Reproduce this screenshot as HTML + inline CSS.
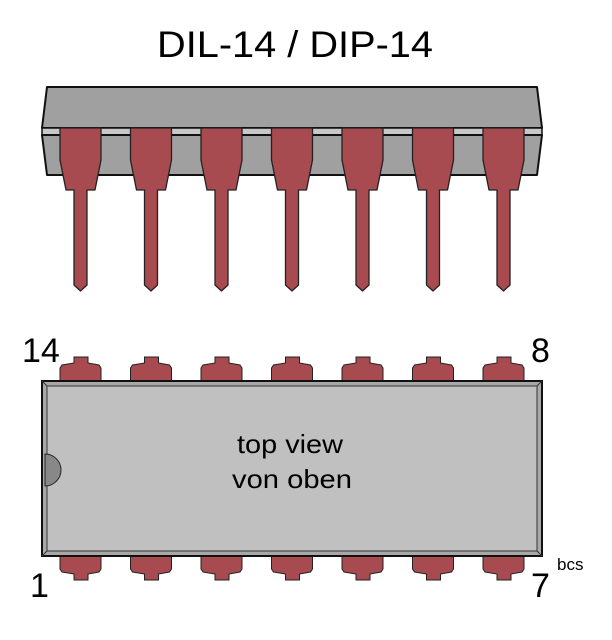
<!DOCTYPE html>
<html><head><meta charset="utf-8"><style>html,body{margin:0;padding:0;background:#fff}svg{display:block}</style></head>
<body>
<svg width="612" height="640" viewBox="0 0 612 640" xmlns="http://www.w3.org/2000/svg" font-family="Liberation Sans, sans-serif">
<defs>
<g id="sp">
<path d="M0,128 L41,128 L41,160 L35,190 L27,190 L27,285 L20.5,291 L14,285 L14,190 L6,190 L0,160 Z" fill="#a84b50" stroke="#222" stroke-width="1.3" stroke-linejoin="round"/>
</g>
<g id="tp">
<path d="M14,357 L28,357 L28,363 L39,365 L41,368 L41,381 L0,381 L0,368 L2,365 L14,363 Z" fill="#a84b50" stroke="#222" stroke-width="1"/>
</g>
<g id="bp">
<path d="M14,580 L28,580 L28,574 L39,572 L41,569 L41,556 L0,556 L0,569 L2,572 L14,574 Z" fill="#a84b50" stroke="#222" stroke-width="1"/>
</g>
</defs>
<text x="157" y="57" font-size="37" textLength="276" lengthAdjust="spacingAndGlyphs">DIL-14 / DIP-14</text>
<path d="M47,87 L537,87 L542,128 L42,128 Z" fill="#a0a0a0" stroke="#111" stroke-width="2" stroke-linejoin="round"/>
<path d="M42,128 L542,128 L542,135 L42,135 Z" fill="#c8c8c8" stroke="#111" stroke-width="1.5"/>
<path d="M42,135 L542,135 L537,175 L47,175 Z" fill="#a0a0a0" stroke="#111" stroke-width="2" stroke-linejoin="round"/>
<use href="#sp" x="60"/><use href="#sp" x="130.5"/><use href="#sp" x="201"/><use href="#sp" x="271.5"/><use href="#sp" x="342"/><use href="#sp" x="412.5"/><use href="#sp" x="483"/>
<use href="#tp" x="60"/><use href="#tp" x="130.5"/><use href="#tp" x="201"/><use href="#tp" x="271.5"/><use href="#tp" x="342"/><use href="#tp" x="412.5"/><use href="#tp" x="483"/>
<use href="#bp" x="60"/><use href="#bp" x="130.5"/><use href="#bp" x="201"/><use href="#bp" x="271.5"/><use href="#bp" x="342"/><use href="#bp" x="412.5"/><use href="#bp" x="483"/>
<rect x="42" y="381" width="500" height="175" fill="#a8a8a8" stroke="#111" stroke-width="2"/>
<rect x="47" y="386" width="490" height="165" fill="#c0c0c0" stroke="#333" stroke-width="1"/>
<path d="M42,381 L47,386 M542,381 L537,386 M42,556 L47,551 M542,556 L537,551" stroke="#333" stroke-width="1"/>
<path d="M45,454 A16,16 0 0 1 45,486 Z" fill="#888" stroke="#222" stroke-width="1"/>
<text x="237" y="453" font-size="26" textLength="106" lengthAdjust="spacingAndGlyphs">top view</text>
<text x="232" y="488" font-size="26" textLength="120" lengthAdjust="spacingAndGlyphs">von oben</text>
<text x="22" y="362" font-size="34">14</text>
<text x="531" y="362" font-size="34">8</text>
<text x="30" y="597" font-size="34">1</text>
<text x="531" y="597" font-size="34">7</text>
<text x="557" y="570" font-size="17">bcs</text>
</svg>
</body></html>
